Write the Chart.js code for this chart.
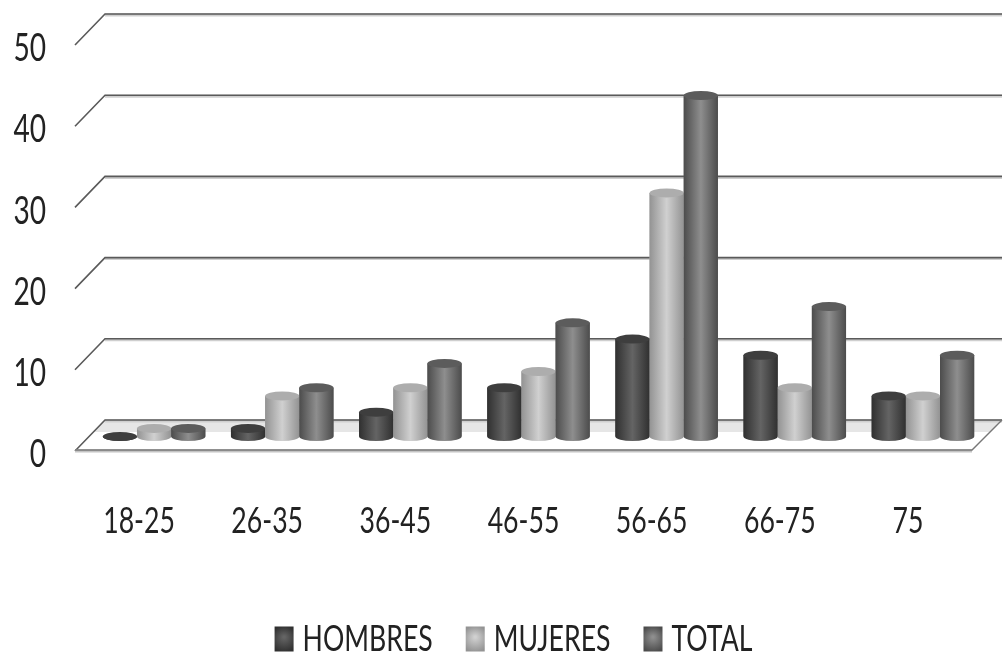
<!DOCTYPE html>
<html>
<head>
<meta charset="utf-8">
<title>Edades</title>
<script src="https://cdn.jsdelivr.net/npm/chart.js@4/dist/chart.umd.min.js"></script>
<style>
  html, body { margin: 0; padding: 0; background: #fff; }
  #wrap { width: 1003px; height: 660px; }
</style>
</head>
<body>
<div id="wrap"><canvas id="myChart" width="1003" height="660"></canvas></div>
<script>
const categories = ['18-25', '26-35', '36-45', '46-55', '56-65', '66-75', '75'];
const hombres = [0, 1, 3, 6, 12, 10, 5];
const mujeres = [1, 5, 6, 8, 30, 6, 5];
const total = [1, 6, 9, 14, 42, 16, 10];

const fontName = 'Lato, "Open Sans", sans-serif';
const textSqueeze = 0.74;
const valueLabelDrop = 4;

/* edge, middle and cap shades of each cylinder */
const shades = [
    { edge: '#303030', mid: '#646464', cap: '#3e3e3e' },
    { edge: '#939393', mid: '#d0d0d0', cap: '#adadad' },
    { edge: '#4c4c4c', mid: '#8e8e8e', cap: '#5c5c5c' }
];

/* depth of the floor, from the front edge to the back wall */
const depthX = 30, depthY = -31;
/* the cylinders stand halfway back on the floor */
const barShiftX = 15, barShiftY = -14.5;
const capHeight = 4.5;
const legendBoxShift = 9;

/* Walls, floor and gridlines */
function drawWalls(chart) {
    const ctx = chart.ctx, y = chart.scales.y, area = chart.chartArea;
    const floorY = y.getPixelForValue(0);
    ctx.save();

    // shaded strip at the back of the floor
    ctx.fillStyle = '#e6e6e6';
    ctx.beginPath();
    ctx.moveTo(area.left + depthX, floorY + depthY);
    ctx.lineTo(area.right + depthX, floorY + depthY);
    ctx.lineTo(area.right + 18, floorY - 19);
    ctx.lineTo(area.left + 18, floorY - 19);
    ctx.closePath();
    ctx.fill();

    y.ticks.forEach(t => {
        const py = y.getPixelForValue(t.value);
        ctx.strokeStyle = '#cfcfcf';
        ctx.lineWidth = 3;
        ctx.beginPath();
        ctx.moveTo(area.left + depthX, py + depthY + 1);
        ctx.lineTo(area.right + depthX, py + depthY + 1);
        ctx.stroke();
        ctx.strokeStyle = '#5a5a5a';
        ctx.lineWidth = 1.6;
        ctx.beginPath();
        ctx.moveTo(area.left, py);
        ctx.lineTo(area.left + depthX, py + depthY);
        ctx.lineTo(area.right + depthX, py + depthY);
        ctx.stroke();
    });

    // front and right edge of the floor
    ctx.strokeStyle = '#c4c4c4';
    ctx.lineWidth = 3;
    ctx.beginPath();
    ctx.moveTo(area.left, floorY);
    ctx.lineTo(area.right, floorY);
    ctx.stroke();
    ctx.strokeStyle = '#777';
    ctx.lineWidth = 1.4;
    ctx.beginPath();
    ctx.moveTo(area.left, floorY - 1);
    ctx.lineTo(area.right, floorY - 1);
    ctx.lineTo(area.right + depthX, floorY + depthY);
    ctx.stroke();
    ctx.restore();
}

function drawCylinder(ctx, bar, shade) {
    const rx = bar.width / 2;
    const left = bar.x - rx, right = bar.x + rx;
    const body = ctx.createLinearGradient(left, 0, right, 0);
    body.addColorStop(0, shade.edge);
    body.addColorStop(0.5, shade.mid);
    body.addColorStop(1, shade.edge);

    ctx.fillStyle = body;
    ctx.beginPath();
    ctx.moveTo(left, bar.y);
    ctx.lineTo(left, bar.base);
    ctx.ellipse(bar.x, bar.base, rx, capHeight, 0, Math.PI, 0, true);
    ctx.lineTo(right, bar.y);
    ctx.closePath();
    ctx.fill();

    ctx.fillStyle = shade.cap;
    ctx.beginPath();
    ctx.ellipse(bar.x, bar.y, rx, capHeight, 0, 0, Math.PI * 2);
    ctx.fill();
}

const cylinderPlugin = {
    id: 'cylinders',
    afterLayout(chart) {
        // the tick labels are clipped to the axis box, so let it reach the page edge
        chart.scales.y.left = 0;
    },
    beforeDatasetsDraw(chart) {
        drawWalls(chart);
        chart.ctx.save();
        chart.ctx.translate(barShiftX, barShiftY);
    },
    afterDatasetsDraw(chart) {
        // painted over the flat bars, left series first so TOTAL stays on top
        chart.data.datasets.forEach((ds, i) => {
            chart.getDatasetMeta(i).data.forEach(el => {
                drawCylinder(chart.ctx, el.getProps(['x', 'y', 'base', 'width']), shades[i]);
            });
        });
        chart.ctx.restore();
    },
    afterDraw(chart) {
        // legend squares sit closer to their text than the library puts them
        const ctx = chart.ctx;
        const w = chart.options.plugins.legend.labels.boxWidth;
        const h = chart.options.plugins.legend.labels.boxHeight;
        chart.legend.legendHitBoxes.forEach((box, i) => {
            const x = box.left + legendBoxShift;
            const cx = x + w / 2, cy = box.top + box.height / 2;
            const glow = ctx.createRadialGradient(cx, cy - 2, 1, cx, cy, w * 0.7);
            glow.addColorStop(0, shades[i].mid);
            glow.addColorStop(1, shades[i].edge);
            ctx.fillStyle = glow;
            ctx.fillRect(x, cy - h / 2, w, h);
        });
    }
};

const ctx = document.getElementById('myChart').getContext('2d');

/* Squeeze all chart text sideways, the labels use a narrow letter shape */
const plainFillText = ctx.fillText.bind(ctx);
const plainMeasureText = ctx.measureText.bind(ctx);
ctx.fillText = function (text, x, y) {
    ctx.save();
    // only the value axis labels are right aligned
    ctx.translate(x, ctx.textAlign === 'right' ? y + valueLabelDrop : y);
    ctx.scale(textSqueeze, 1);
    plainFillText(text, 0, 0);
    ctx.restore();
};
ctx.measureText = function (text) {
    return { width: plainMeasureText(text).width * textSqueeze };
};

const myChart = new Chart(ctx, {
    type: 'bar',
    data: {
        labels: categories,
        datasets: [
            { label: 'HOMBRES', data: hombres, backgroundColor: '#444444', clip: false },
            { label: 'MUJERES', data: mujeres, backgroundColor: '#b0b0b0', clip: false },
            { label: 'TOTAL', data: total, backgroundColor: '#696969', clip: false }
        ]
    },
    options: {
        responsive: false,
        animation: false,
        categoryPercentage: 0.8,
        barPercentage: 1,
        layout: { padding: { top: 45, right: 31, left: 46, bottom: -7 } },
        scales: {
            x: {
                afterFit(scale) { scale.height = 146; },
                grid: { display: false },
                border: { display: false },
                ticks: {
                    padding: 41,
                    color: '#222',
                    font: { family: fontName, size: 36 },
                    maxRotation: 0
                }
            },
            y: {
                min: 0,
                max: 50,
                afterFit(scale) {
                    scale.width = 29;
                    // tick padding would otherwise push the plot top down
                    scale.paddingTop = 0;
                    scale.paddingBottom = 0;
                },
                grid: { display: false, drawTicks: false },
                border: { display: false },
                ticks: {
                    stepSize: 10,
                    padding: 29,
                    color: '#222',
                    font: { family: fontName, size: 38 }
                }
            }
        },
        plugins: {
            tooltip: { enabled: false },
            legend: {
                position: 'bottom',
                labels: {
                    boxWidth: 19,
                    boxHeight: 25,
                    padding: 24,
                    color: '#222',
                    font: { family: fontName, size: 36 },
                    generateLabels(chart) {
                        const items = Chart.defaults.plugins.legend.labels.generateLabels(chart);
                        items.forEach(item => {
                            item.fillStyle = 'transparent';
                            item.strokeStyle = 'transparent';
                            item.lineWidth = 0;
                        });
                        return items;
                    }
                }
            }
        }
    },
    plugins: [cylinderPlugin]
});
</script>
</body>
</html>
